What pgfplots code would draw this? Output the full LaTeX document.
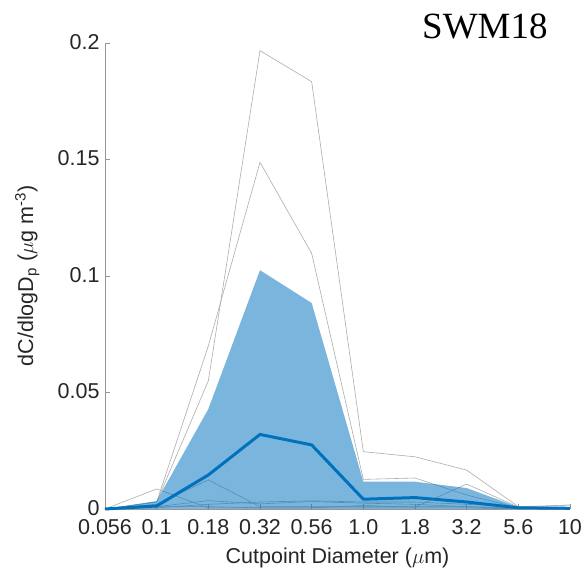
\documentclass[border=0pt]{standalone}
\usepackage{fontspec}
\setmainfont{Liberation Sans}
\newfontfamily\serifname{Liberation Serif}
\usepackage{pgfplots}
\pgfplotsset{compat=1.18}

\definecolor{mblue}{RGB}{0,114,189}
\definecolor{bandblue}{RGB}{0,114,189}
\definecolor{runline}{RGB}{172,172,172}
\definecolor{axisgray}{RGB}{150,150,150}
\definecolor{txt}{RGB}{38,38,38}

\begin{document}
\begin{tikzpicture}
\useasboundingbox (-105pt,-71pt) rectangle (482pt,509pt);
\begin{axis}[
  at={(0,0)}, anchor=south west,
  scale only axis, width=465pt, height=466pt,
  xmin=0, xmax=9, ymin=0, ymax=0.2,
  axis lines=left,
  axis line style={-, draw=axisgray, line width=0.8pt},
  tick style={draw=axisgray, line width=0.8pt},
  tick align=inside, major tick length=5pt,
  xtick={0,1,2,3,4,5,6,7,8,9},
  xticklabels={0.056,0.1,0.18,0.32,0.56,1.0,1.8,3.2,5.6,10},
  ytick={0,0.05,0.1,0.15,0.2},
  yticklabels={0,0.05,0.1,0.15,0.2},
  /pgf/number format/assume math mode=true,
  ticklabel style={font=\fontsize{21.5}{24}\selectfont, text=txt},
  xticklabel style={yshift=-7pt},
  yticklabel style={xshift=-2pt, yshift=1pt},
  xlabel={Cutpoint Diameter ($\mu$m)},
  ylabel={dC/dlogD\textsubscript{p} ($\mu$g m\textsuperscript{-3})},
  label style={font=\fontsize{21.5}{24}\selectfont, text=txt},
  xlabel style={at={(axis description cs:0.5,-0.105)}, anchor=center},
  ylabel style={at={(axis description cs:-0.167,0.5)}, anchor=center, rotate=0},
  clip=false,
]
% individual runs
\addplot[runline, line width=0.6pt] coordinates {(0,0) (1,0.003) (2,0.055) (3,0.1967) (4,0.1834) (5,0.0246) (6,0.0224) (7,0.0167) (8,0.001) (9,0.0017)};
\addplot[runline, line width=0.6pt] coordinates {(0,0) (1,0.003) (2,0.070) (3,0.1488) (4,0.1097) (5,0.0127) (6,0.0133) (7,0.006) (8,0.0005) (9,0.0017)};
\addplot[runline, line width=0.6pt] coordinates {(0,0) (1,0.0086) (2,0.0005) (3,0.0005) (4,0.0005) (5,0.0005) (6,0.0005) (7,0.0005) (8,0) (9,0)};
\addplot[runline, line width=0.6pt] coordinates {(0,0) (1,0.002) (2,0.0125) (3,0.001) (4,0.001) (5,0.001) (6,0.001) (7,0.001) (8,0) (9,0)};
\addplot[runline, line width=0.6pt] coordinates {(0,0) (1,0.001) (2,0.0036) (3,0.0022) (4,0.0032) (5,0.0025) (6,0.002) (7,0.001) (8,0.0005) (9,0)};
\addplot[runline, line width=0.6pt] coordinates {(0,0) (1,0.001) (2,0.001) (3,0.0005) (4,0.0005) (5,0.0015) (6,0.0008) (7,0.0107) (8,0.0008) (9,0.0005)};
\addplot[runline, line width=0.6pt] coordinates {(0,0) (1,0.0005) (2,0.002) (3,0.003) (4,0.0035) (5,0.003) (6,0.003) (7,0.002) (8,0.001) (9,0.0005)};
% interquartile band
\addplot[draw=none, fill=bandblue, fill opacity=0.52] coordinates {(0,0) (1,0.0034) (2,0.0429) (3,0.1025) (4,0.0884) (5,0.0117) (6,0.0117) (7,0.009) (8,0.0008) (9,0.0008)} \closedcycle;
% median
\addplot[mblue, line width=3pt, line join=round] coordinates {(0,0) (1,0.0013) (2,0.0146) (3,0.032) (4,0.0275) (5,0.0042) (6,0.0049) (7,0.003) (8,0.0005) (9,0.0003)};
\node[anchor=base, font=\serifname\fontsize{37}{40}\selectfont, text=black] at (axis description cs:0.817,1.0107) {SWM18};
\end{axis}
\end{tikzpicture}
\end{document}
